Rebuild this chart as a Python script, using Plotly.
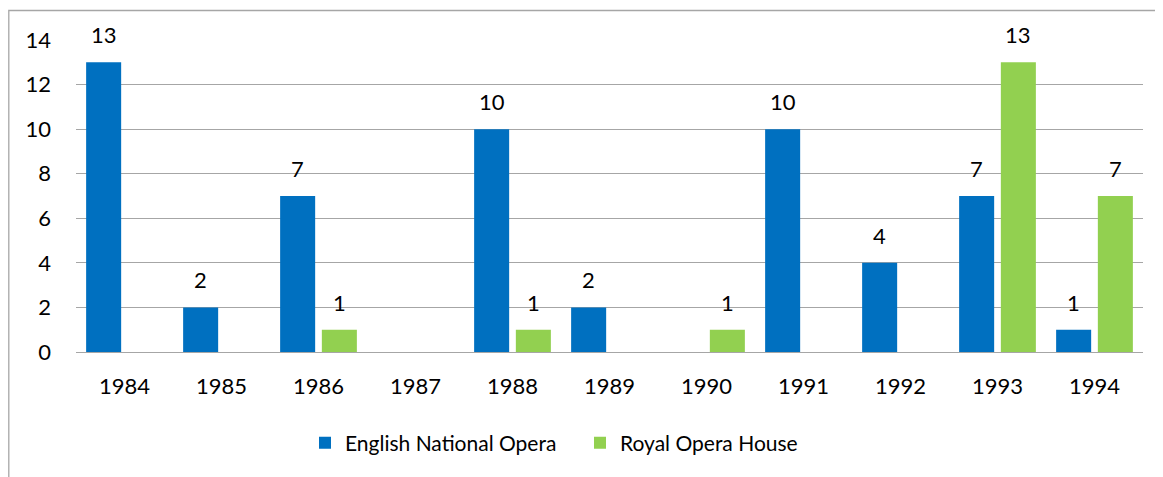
import plotly.graph_objects as go

years = ["1984", "1985", "1986", "1987", "1988", "1989", "1990", "1991", "1992", "1993", "1994"]
eno = [13, 2, 7, 0, 10, 2, 0, 10, 4, 7, 1]
roh = [0, 0, 1, 0, 1, 0, 1, 0, 0, 13, 7]
series_names = ["English National Opera", "Royal Opera House"]
colors = ["#0070C0", "#92D050"]
y_ticks = [0, 2, 4, 6, 8, 10, 12, 14]

FONT = "Lato"
FS = 22

# page body adds an 8px offset; positions below are in figure coordinates
OFF = 8
W, H = 1163, 477
ML, MT = 76 - OFF, 40 - OFF
PW, PH = 1067, 312
MR = W - ML - PW
MB = H - MT - PH

fig = go.Figure()
for name, vals, col in zip(series_names, [eno, roh], colors):
    fig.add_trace(go.Bar(x=years, y=vals, name=name, marker=dict(color=col, line=dict(width=0))))

bargap, bargroupgap = 0.14, 0.16
cat_w = PW / len(years)
slot = cat_w * (1 - bargap) / 2
annotations = []
for i, vals in enumerate([eno, roh]):
    shift = (i - 0.5) * slot
    for k, v in enumerate(vals):
        if v == 0:
            continue
        annotations.append(dict(x=k, y=v, text=str(v), showarrow=False, xshift=shift,
                                yanchor="bottom", yshift=12,
                                font=dict(family=FONT, size=FS, color="#000000")))

def px_x(p):
    return (p - OFF - ML) / PW

def px_y(p):
    return (MT + PH - (p - OFF)) / PH

fig.update_layout(
    width=W, height=H,
    margin=dict(l=ML, r=MR, t=MT, b=MB, autoexpand=False),
    paper_bgcolor="white", plot_bgcolor="white",
    barmode="group", bargap=bargap, bargroupgap=bargroupgap,
    font=dict(family=FONT, size=FS, color="#000000"),
    showlegend=True,
    legend=dict(orientation="h", x=px_x(580), xanchor="center", y=px_y(443), yanchor="middle",
                entrywidth=230,
                font=dict(family=FONT, size=21, color="#000000"), itemclick=False),
    annotations=annotations,
    shapes=[dict(type="rect", xref="paper", yref="paper",
                 x0=px_x(8.8), x1=px_x(1190), y0=px_y(500), y1=px_y(10.5),
                 line=dict(color="#A6A6A6", width=1.3), fillcolor="rgba(0,0,0,0)", layer="below")],
)
fig.update_xaxes(type="category", range=[-0.5, len(years) - 0.5], showgrid=False, showline=False, ticks="",
                 ticklabelstandoff=19, tickfont=dict(family=FONT, size=FS))
fig.update_yaxes(range=[0, 14], tickvals=y_ticks, showgrid=True, gridcolor="#A6A6A6", gridwidth=1,
                 zeroline=True, zerolinecolor="#A6A6A6", zerolinewidth=1, showline=False,
                 ticks="", ticklabelstandoff=24, tickfont=dict(family=FONT, size=FS))

fig.write_html("out.html")
